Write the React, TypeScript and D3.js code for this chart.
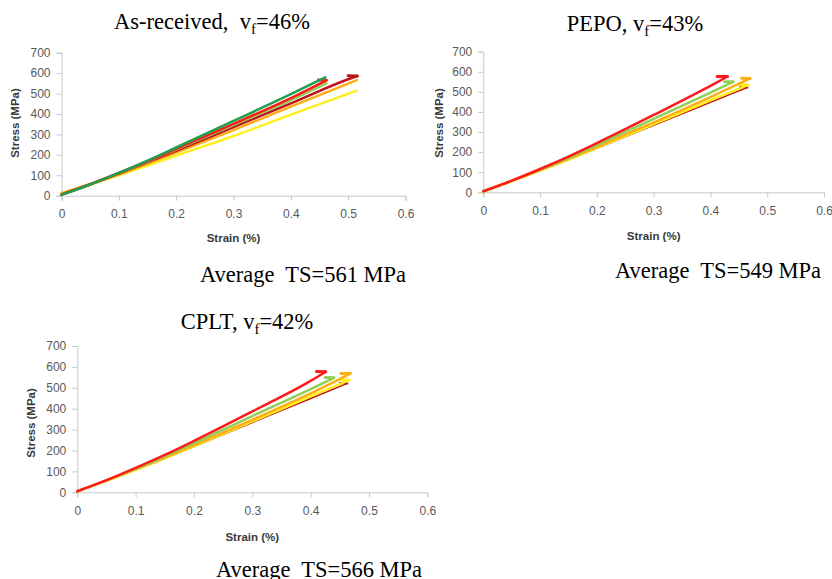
import React, { useEffect, useRef } from 'react';
import * as d3 from 'd3';

// strain (%) / stress (MPa) pairs; last point of a series with x going back is the failure hook
const asRecGreen = [[0, 4], [0.05, 55], [0.1, 112], [0.15, 172], [0.2, 236], [0.3, 366], [0.4, 497], [0.46, 579]];
const asRecRed = [[0, 6], [0.05, 56], [0.1, 111], [0.15, 168], [0.2, 229], [0.3, 352], [0.4, 478], [0.462, 565], [0.448, 566]];
const asRecLtGreen = [[0, 6], [0.05, 56], [0.1, 110], [0.15, 166], [0.2, 226], [0.3, 346], [0.4, 468], [0.462, 550]];
const asRecDkRed = [[0, 6], [0.05, 55], [0.1, 108], [0.15, 163], [0.2, 220], [0.3, 336], [0.4, 452], [0.5, 570], [0.516, 586], [0.5, 587]];
const asRecOrange = [[0, 10], [0.05, 57], [0.1, 105], [0.15, 157], [0.2, 211], [0.3, 321], [0.4, 436], [0.515, 566]];
const asRecYellow = [[0, 12], [0.05, 55], [0.1, 100], [0.15, 147], [0.2, 196], [0.3, 292], [0.4, 397], [0.515, 514]];

const pepoRed = [[0, 5], [0.05, 58], [0.1, 116], [0.15, 178], [0.2, 245], [0.3, 385], [0.4, 530], [0.43, 576], [0.412, 577]];
const pepoLtGreen = [[0, 5], [0.05, 57], [0.1, 113], [0.15, 172], [0.2, 235], [0.3, 366], [0.4, 496], [0.44, 550], [0.425, 551]];
const pepoOrange = [[0, 5], [0.05, 56], [0.1, 110], [0.15, 166], [0.2, 226], [0.3, 348], [0.4, 474], [0.47, 567], [0.455, 568]];
const pepoYellow = [[0, 5], [0.05, 55], [0.1, 108], [0.15, 163], [0.2, 221], [0.3, 339], [0.4, 458], [0.466, 534], [0.452, 535]];
const pepoDkRed = [[0, 5], [0.05, 55], [0.1, 108], [0.15, 162], [0.2, 219], [0.3, 334], [0.4, 448], [0.465, 522], [0.452, 524]];

const cpltRed = [[0, 5], [0.05, 58], [0.1, 117], [0.15, 179], [0.2, 246], [0.3, 387], [0.4, 533], [0.426, 577], [0.41, 578]];
const cpltLtGreen = [[0, 5], [0.05, 57], [0.1, 113], [0.15, 172], [0.2, 235], [0.3, 365], [0.4, 494], [0.44, 548], [0.425, 549]];
const cpltOrange = [[0, 5], [0.05, 56], [0.1, 110], [0.15, 166], [0.2, 226], [0.3, 347], [0.4, 473], [0.468, 568], [0.452, 569]];
const cpltYellow = [[0, 5], [0.05, 55], [0.1, 108], [0.15, 163], [0.2, 221], [0.3, 339], [0.4, 459], [0.466, 537], [0.452, 538]];
const cpltDkRed = [[0, 5], [0.05, 55], [0.1, 108], [0.15, 162], [0.2, 219], [0.3, 334], [0.4, 449], [0.463, 521], [0.45, 523]];

const xTicks = [0, 0.1, 0.2, 0.3, 0.4, 0.5, 0.6];
const yTicks = [0, 100, 200, 300, 400, 500, 600, 700];
const titles = ['As-received,  v', 'PEPO, v', 'CPLT, v'];
const fractions = ['=46%', '=43%', '=42%'];
const averages = ['Average  TS=561 MPa', 'Average  TS=549 MPa', 'Average  TS=566 MPa'];

const COLORS: Record<string, string> = {
  green: '#1ea04e', red: '#ff1a1a', ltgreen: '#8fcf55', dkred: '#c0141c', orange: '#ffad14', yellow: '#ffef1a'
};

const PANELS = [
  {
    x0: 61.5, x1: 405.5, yb: 195.7, yt: 52.7,
    titleX: 212, titleY: 29, avgX: 303, avgY: 282, ylabX: 15, ylabY: 123, xlabY: 242,
    series: [
      { pts: asRecYellow, c: 'yellow', w: 2.5 },
      { pts: asRecOrange, c: 'orange', w: 2.5 },
      { pts: asRecDkRed, c: 'dkred', w: 2.5 },
      { pts: asRecLtGreen, c: 'ltgreen', w: 2.5 },
      { pts: asRecRed, c: 'red', w: 2.5 },
      { pts: asRecGreen, c: 'green', w: 2.5 },
    ],
  },
  {
    x0: 483.3, x1: 824, yb: 192.3, yt: 51.7,
    titleX: 635, titleY: 31, avgX: 718, avgY: 278, ylabX: 439, ylabY: 123, xlabY: 240,
    series: [
      { pts: pepoDkRed, c: 'dkred', w: 1.5 },
      { pts: pepoYellow, c: 'yellow', w: 2.5 },
      { pts: pepoOrange, c: 'orange', w: 2.5 },
      { pts: pepoLtGreen, c: 'ltgreen', w: 2.5 },
      { pts: pepoRed, c: 'red', w: 2.5 },
    ],
  },
  {
    x0: 77.3, x1: 427.3, yb: 492.3, yt: 346,
    titleX: 247, titleY: 329, avgX: 319, avgY: 577, ylabX: 31, ylabY: 423, xlabY: 541,
    series: [
      { pts: cpltDkRed, c: 'dkred', w: 1.5 },
      { pts: cpltYellow, c: 'yellow', w: 2.5 },
      { pts: cpltOrange, c: 'orange', w: 2.5 },
      { pts: cpltLtGreen, c: 'ltgreen', w: 2.5 },
      { pts: cpltRed, c: 'red', w: 2.5 },
    ],
  },
];

const App = () => {
  const ref = useRef<SVGSVGElement>(null);

  useEffect(() => {
    const svg = d3.select(ref.current);
    svg.selectAll('*').remove();

    PANELS.forEach((p, i) => {
      const x = d3.scaleLinear().domain([0, 0.6]).range([p.x0, p.x1]);
      const y = d3.scaleLinear().domain([0, 700]).range([p.yb, p.yt]);
      const g = svg.append('g');

      const xAxis = g.append('g').attr('transform', `translate(0,${p.yb})`)
        .call(d3.axisBottom(x).tickValues(xTicks).tickSize(5).tickPadding(6).tickFormat(d => String(+d)));
      const yAxis = g.append('g').attr('transform', `translate(${p.x0},0)`)
        .call(d3.axisLeft(y).tickValues(yTicks).tickSize(5).tickPadding(6));
      [xAxis, yAxis].forEach(a => {
        a.selectAll('path,line').attr('stroke', '#c8c8c8').attr('stroke-width', 1);
        a.selectAll('text').attr('fill', '#595959').style('font-family', 'Liberation Sans, Arial, sans-serif').style('font-size', '12px');
      });
      xAxis.selectAll('text').attr('dy', '0.95em');

      const line = d3.line<number[]>().x(d => x(d[0])).y(d => y(d[1])).curve(d3.curveMonotoneX);
      const hook = d3.line<number[]>().x(d => x(d[0])).y(d => y(d[1]));
      p.series.forEach(s => {
        const pts = s.pts;
        const n = pts.length;
        const back = pts[n - 1][0] < pts[n - 2][0];
        const rise = back ? pts.slice(0, -1) : pts;
        g.append('path').attr('d', line(rise)).attr('fill', 'none')
          .attr('stroke', COLORS[s.c]).attr('stroke-width', s.w).attr('stroke-linecap', 'round');
        if (back) {
          g.append('path').attr('d', hook(pts.slice(-2))).attr('fill', 'none')
            .attr('stroke', COLORS[s.c]).attr('stroke-width', s.w + 0.5).attr('stroke-linecap', 'round');
        }
      });

      g.append('text').attr('x', (p.x0 + p.x1) / 2 - 0).attr('y', p.xlabY).attr('text-anchor', 'middle')
        .style('font-family', 'Liberation Sans, Arial, sans-serif').style('font-size', '11.5px').style('font-weight', 'bold')
        .attr('fill', '#3a3a3a').text('Strain (%)');
      g.append('text').attr('transform', `translate(${p.ylabX},${p.ylabY}) rotate(-90)`).attr('text-anchor', 'middle')
        .attr('dy', '0.35em')
        .style('font-family', 'Liberation Sans, Arial, sans-serif').style('font-size', '11.5px').style('font-weight', 'bold')
        .attr('fill', '#3a3a3a').text('Stress (MPa)');

      const t = g.append('text').attr('x', p.titleX).attr('y', p.titleY).attr('text-anchor', 'middle')
        .style('white-space', 'pre')
        .style('font-family', 'Liberation Serif, Times New Roman, serif').style('font-size', '22.5px').attr('fill', '#000');
      t.append('tspan').text(titles[i]);
      t.append('tspan').attr('dy', 5).style('font-size', '15px').text('f');
      t.append('tspan').attr('dy', -5).text(fractions[i]);

      g.append('text').attr('x', p.avgX).attr('y', p.avgY).attr('text-anchor', 'middle')
        .style('font-family', 'Liberation Serif, Times New Roman, serif').style('font-size', '22.5px')
        .style('white-space', 'pre').attr('fill', '#000').text(averages[i]);
    });
  }, []);

  return (
    <div>
      <svg ref={ref} width={832} height={579} style={{ position: 'absolute', left: 0, top: 0, background: '#fff' }} />
    </div>
  );
};

export default App;
